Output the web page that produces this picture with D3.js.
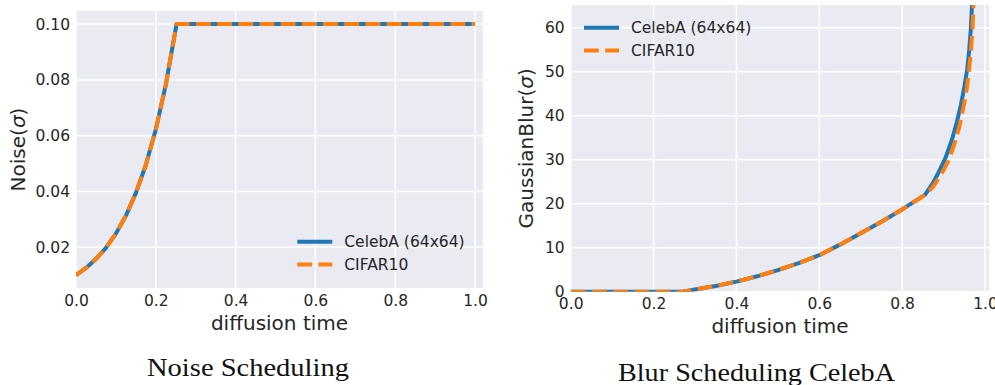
<!DOCTYPE html>
<html>
<head>
<meta charset="utf-8">
<script src="https://cdn.jsdelivr.net/npm/d3@7"></script>
<style>
  html, body { margin: 0; padding: 0; background: #fff; }
  svg { display: block; }
  .tick text { font-family: "DejaVu Sans", sans-serif; fill: #262626; }
  .axis path { display: none; }
</style>
</head>
<body>
<div id="chart"></div>
<script>
// Series names shared by both panels
const seriesNames = ["CelebA (64x64)", "CIFAR10"]

// Noise scheduling (left panel)
const noiseTime = [0, 0.025, 0.05, 0.075, 0.1, 0.125, 0.15, 0.175, 0.2, 0.225, 0.252, 1.0]
const noiseCelebA = [0.01, 0.0126, 0.0158, 0.0198, 0.0249, 0.0313, 0.0394, 0.0495, 0.0622, 0.0782, 0.1, 0.1]
const noiseCifar = [0.01, 0.0126, 0.0158, 0.0198, 0.0249, 0.0313, 0.0394, 0.0495, 0.0622, 0.0782, 0.1, 0.1]
const noiseTicksX = [0, 0.2, 0.4, 0.6, 0.8, 1.0]
const noiseTicksY = [0.02, 0.04, 0.06, 0.08, 0.1]

// Blur scheduling (right panel)
const blurTimeCelebA = [0, 0.1, 0.2, 0.27, 0.3, 0.35, 0.4, 0.45, 0.5, 0.55, 0.6, 0.65, 0.7, 0.75, 0.8, 0.855,
  0.875, 0.89, 0.905, 0.92, 0.932, 0.942, 0.95, 0.957, 0.962, 0.966, 0.969, 0.971]
const blurCelebA = [0, 0, 0, 0, 0.5, 1.3, 2.3, 3.5, 4.9, 6.5, 8.3, 10.7, 13.3, 15.9, 18.7, 22,
  24.8, 27.5, 30.5, 34.5, 38.5, 42.5, 46.5, 50.5, 55, 60, 66, 75]
const blurTimeCifar = [0, 0.1, 0.2, 0.27, 0.3, 0.35, 0.4, 0.45, 0.5, 0.55, 0.6, 0.65, 0.7, 0.75, 0.8, 0.855,
  0.875, 0.895, 0.912, 0.926, 0.938, 0.947, 0.955, 0.9614, 0.9662, 0.97, 0.9725, 0.974]
const blurCifar = [0, 0, 0, 0, 0.5, 1.3, 2.3, 3.5, 4.9, 6.5, 8.3, 10.7, 13.3, 15.9, 18.7, 22,
  23.9, 26.8, 29.8, 33.5, 37.5, 41.5, 45.5, 50.2, 55, 60, 66, 75]
const blurTicksX = [0, 0.2, 0.4, 0.6, 0.8, 1.0]
const blurTicksY = [0, 10, 20, 30, 40, 50, 60]

const colors = ["#1f77b4", "#ff7f0e"]
const W = 995
const H = 385

const svg = d3.select("#chart").append("svg").attr("width", W).attr("height", H)

function zip(xs, ys) {
  return xs.map((x, i) => ({ x: x, y: ys[i] }))
}

function drawPanel(opts) {
  const x = d3.scaleLinear().domain(opts.xDomain).range([opts.left, opts.right])
  const y = d3.scaleLinear().domain(opts.yDomain).range([opts.bottom, opts.top])
  const g = svg.append("g")

  // Seaborn darkgrid background
  g.append("rect")
    .attr("x", opts.left)
    .attr("y", opts.top)
    .attr("width", opts.right - opts.left)
    .attr("height", opts.bottom - opts.top)
    .attr("fill", "#eaeaf2")

  // Grid lines
  g.selectAll(".gx")
    .data(opts.ticksX)
    .enter()
    .append("line")
    .attr("x1", (d) => x(d))
    .attr("x2", (d) => x(d))
    .attr("y1", opts.top)
    .attr("y2", opts.bottom)
    .attr("stroke", "#fff")
    .attr("stroke-width", 1.5)

  g.selectAll(".gy")
    .data(opts.ticksY)
    .enter()
    .append("line")
    .attr("x1", opts.left)
    .attr("x2", opts.right)
    .attr("y1", (d) => y(d))
    .attr("y2", (d) => y(d))
    .attr("stroke", "#fff")
    .attr("stroke-width", 1.5)

  // Axes (no tick marks)
  g.append("g")
    .attr("class", "axis")
    .attr("transform", `translate(0,${opts.bottom})`)
    .call(d3.axisBottom(x).tickValues(opts.ticksX).tickFormat(d3.format(".1f")).tickSize(0).tickPadding(6.5))
    .selectAll("text")
    .style("font-size", "15.5px")

  g.append("g")
    .attr("class", "axis")
    .attr("transform", `translate(${opts.left},0)`)
    .call(d3.axisLeft(y).tickValues(opts.ticksY).tickFormat(opts.yFormat).tickSize(0).tickPadding(6))
    .selectAll("text")
    .style("font-size", "15.5px")

  // Axis labels
  g.append("text")
    .attr("x", (opts.left + opts.right) / 2)
    .attr("y", opts.xLabelY)
    .attr("text-anchor", "middle")
    .style("font-family", "DejaVu Sans, sans-serif")
    .style("font-size", "20px")
    .style("fill", "#262626")
    .text("diffusion time")

  const yl = g.append("text")
    .attr("transform", `translate(${opts.yLabelX},${(opts.top + opts.bottom) / 2}) rotate(-90)`)
    .attr("text-anchor", "middle")
    .style("font-family", "DejaVu Sans, sans-serif")
    .style("font-size", "20px")
    .style("fill", "#262626")
  yl.append("tspan").text(opts.yLabel + "(")
  yl.append("tspan").style("font-style", "italic").text("σ")
  yl.append("tspan").text(")")

  // Lines, clipped to the plot area
  const clipId = "clip-" + opts.id
  svg.append("defs")
    .append("clipPath")
    .attr("id", clipId)
    .append("rect")
    .attr("x", opts.left)
    .attr("y", opts.top)
    .attr("width", opts.right - opts.left)
    .attr("height", opts.bottom - opts.top)

  const line = d3.line().x((d) => x(d.x)).y((d) => y(d.y))
  const lines = g.append("g").attr("clip-path", `url(#${clipId})`)

  opts.series.forEach((s, i) => {
    lines.append("path")
      .datum(s)
      .attr("d", line)
      .attr("fill", "none")
      .attr("stroke", colors[i])
      .attr("stroke-width", 4)
      .attr("stroke-linejoin", "round")
      .attr("stroke-dasharray", i === 1 ? "14.8,6.4" : null)
  })

  // Legend
  const legend = g.append("g").attr("transform", `translate(${opts.legendX},${opts.legendY})`)
  seriesNames.forEach((name, i) => {
    const row = legend.append("g").attr("transform", `translate(0,${i * 22.8})`)
    row.append("line")
      .attr("x1", 0)
      .attr("x2", 35)
      .attr("stroke", colors[i])
      .attr("stroke-width", 4)
      .attr("stroke-dasharray", i === 1 ? "14.8,6.4" : null)
    row.append("text")
      .attr("x", 47)
      .attr("y", 5.5)
      .style("font-family", "DejaVu Sans, sans-serif")
      .style("font-size", "15.5px")
      .style("fill", "#262626")
      .text(name)
  })

  // Caption below the panel
  svg.append("text")
    .attr("x", opts.titleX)
    .attr("y", opts.titleY)
    .attr("text-anchor", "middle")
    .attr("textLength", opts.titleW)
    .attr("lengthAdjust", "spacingAndGlyphs")
    .style("font-family", "Liberation Serif, serif")
    .style("font-size", "26px")
    .style("fill", "#111")
    .text(opts.title)
}

drawPanel({
  id: "noise",
  left: 76, right: 483, top: 11, bottom: 288,
  xDomain: [0, 1.02], yDomain: [0.0054, 0.1047],
  ticksX: noiseTicksX, ticksY: noiseTicksY,
  yFormat: d3.format(".2f"),
  yLabel: "Noise",
  xLabelY: 330, yLabelX: 25,
  legendX: 297.3, legendY: 241.7,
  series: [zip(noiseTime, noiseCelebA), zip(noiseTime, noiseCifar)],
  title: "Noise Scheduling", titleX: 248, titleY: 376, titleW: 202,
})

drawPanel({
  id: "blur",
  left: 570.7, right: 989.3, top: 5, bottom: 291.7,
  xDomain: [0, 1.0104], yDomain: [0, 65.17],
  ticksX: blurTicksX, ticksY: blurTicksY,
  yFormat: d3.format("d"),
  yLabel: "GaussianBlur",
  xLabelY: 333, yLabelX: 533,
  legendX: 584, legendY: 27.7,
  series: [zip(blurTimeCelebA, blurCelebA), zip(blurTimeCifar, blurCifar)],
  title: "Blur Scheduling CelebA", titleX: 756.5, titleY: 381, titleW: 277,
})
</script>
</body>
</html>
